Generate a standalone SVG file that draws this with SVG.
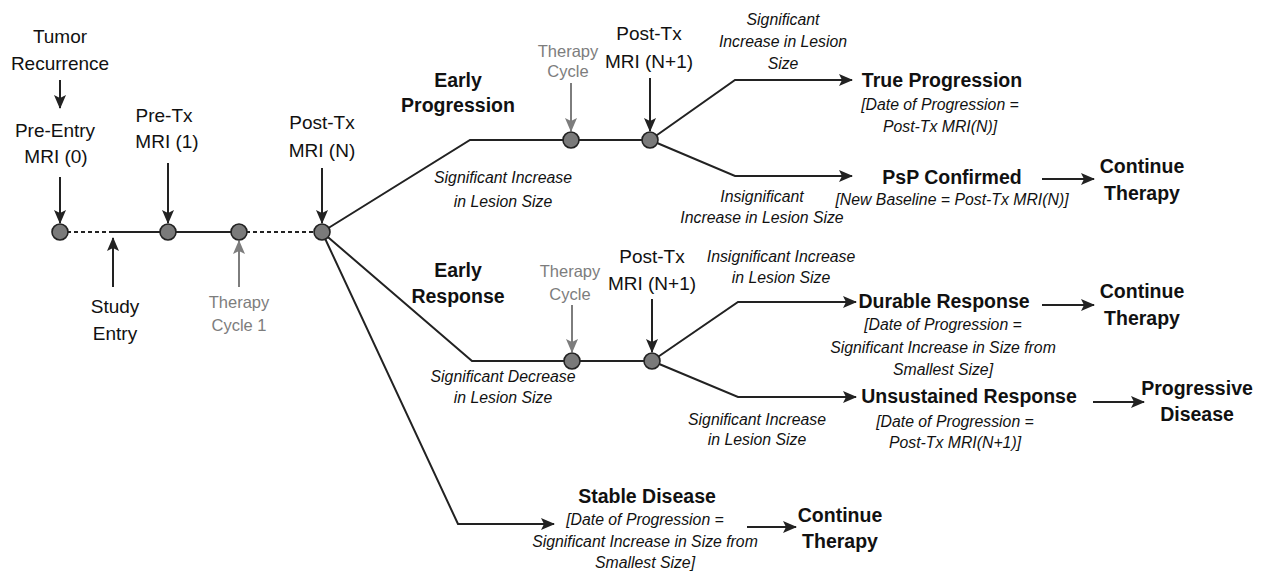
<svg xmlns="http://www.w3.org/2000/svg" width="1267" height="574" viewBox="0 0 1267 574">
<defs>
<style>
text{font-family:"Liberation Sans",Arial,sans-serif;fill:#111;text-anchor:middle}
.r{font-size:19px}
.b{font-size:19.5px;font-weight:bold}
.i{font-size:15.8px;font-style:italic}
.g{font-size:16.5px;fill:#7d7d7d}
.ln{fill:none;stroke:#222;stroke-width:2}
.gl{fill:none;stroke:#7d7d7d;stroke-width:2}
.ds{fill:none;stroke:#222;stroke-width:2;stroke-dasharray:4 3}
.nd{fill:#7a7a7a;stroke:#222;stroke-width:1.6}
</style>
<marker id="ah" markerUnits="userSpaceOnUse" markerWidth="14" markerHeight="12" refX="13" refY="6" orient="auto">
<path d="M0,0 L14,6 L0,12 L3,6 z" fill="#222"/>
</marker>
<marker id="ahg" markerUnits="userSpaceOnUse" markerWidth="14" markerHeight="12" refX="13" refY="6" orient="auto">
<path d="M0,0 L14,6 L0,12 L3,6 z" fill="#7d7d7d"/>
</marker>
</defs>
<rect width="1267" height="574" fill="#fff"/>

<g id="connectors">
<line class="ds" x1="60" y1="232" x2="113" y2="232"/>
<line class="ln" x1="113" y1="232" x2="239" y2="232"/>
<line class="ds" x1="239" y1="232" x2="322" y2="232"/>
<line class="ln" x1="60" y1="80" x2="60" y2="108" marker-end="url(#ah)"/>
<line class="ln" x1="60" y1="177" x2="60" y2="223" marker-end="url(#ah)"/>
<line class="ln" x1="168" y1="163" x2="168" y2="223" marker-end="url(#ah)"/>
<line class="ln" x1="322" y1="168" x2="322" y2="223" marker-end="url(#ah)"/>
<line class="ln" x1="113" y1="287" x2="113" y2="238" marker-end="url(#ah)"/>
<line class="gl" x1="239" y1="287" x2="239" y2="241" marker-end="url(#ahg)"/>

<polyline class="ln" points="322,232 470,140 650,140"/>
<line class="gl" x1="571" y1="83" x2="571" y2="131" marker-end="url(#ahg)"/>
<line class="ln" x1="650" y1="78" x2="650" y2="131" marker-end="url(#ah)"/>
<polyline class="ln" points="650,140 735,80 852,80" marker-end="url(#ah)"/>
<polyline class="ln" points="650,140 735,176 852,176" marker-end="url(#ah)"/>
<line class="ln" x1="1042" y1="179" x2="1094" y2="179" marker-end="url(#ah)"/>

<polyline class="ln" points="322,232 472,361 652,361"/>
<line class="gl" x1="572" y1="305" x2="572" y2="352" marker-end="url(#ahg)"/>
<line class="ln" x1="652" y1="299" x2="652" y2="352" marker-end="url(#ah)"/>
<polyline class="ln" points="652,361 738,302 856,302" marker-end="url(#ah)"/>
<polyline class="ln" points="652,361 738,397 856,397" marker-end="url(#ah)"/>
<line class="ln" x1="1042" y1="305" x2="1094" y2="305" marker-end="url(#ah)"/>
<line class="ln" x1="1093" y1="402" x2="1144" y2="402" marker-end="url(#ah)"/>

<polyline class="ln" points="322,232 458,524 554,524" marker-end="url(#ah)"/>
<line class="ln" x1="747" y1="527" x2="796" y2="527" marker-end="url(#ah)"/>
</g>

<g id="n-tumor"><text class="r" x="60" y="43">Tumor</text><text class="r" x="60" y="70">Recurrence</text></g>
<g id="n-preentry"><circle class="nd" cx="60" cy="232" r="8"/><text class="r" x="55" y="137">Pre-Entry</text><text class="r" x="56" y="163">MRI (0)</text></g>
<g id="n-studyentry"><text class="r" x="115" y="313">Study</text><text class="r" x="115" y="340">Entry</text></g>
<g id="n-pretx"><circle class="nd" cx="168" cy="232" r="8"/><text class="r" x="164" y="122">Pre-Tx</text><text class="r" x="167" y="148">MRI (1)</text></g>
<g id="n-cycle1"><circle class="nd" cx="239" cy="232" r="8"/><text class="g" x="239" y="308">Therapy</text><text class="g" x="239" y="331">Cycle 1</text></g>
<g id="n-posttx"><circle class="nd" cx="322" cy="232" r="8"/><text class="r" x="322" y="129">Post-Tx</text><text class="r" x="322" y="157">MRI (N)</text></g>

<g id="n-earlyprog">
<text class="b" x="458" y="87">Early</text><text class="b" x="458" y="112">Progression</text>
<text class="i" x="503" y="183">Significant Increase</text><text class="i" x="503" y="207">in Lesion Size</text>
<circle class="nd" cx="571" cy="140" r="8"/><text class="g" x="568" y="57">Therapy</text><text class="g" x="568" y="77">Cycle</text>
<circle class="nd" cx="650" cy="140" r="8"/><text class="r" x="649" y="40">Post-Tx</text><text class="r" x="649" y="68">MRI (N+1)</text>
<text class="i" x="783" y="25">Significant</text><text class="i" x="783" y="47">Increase in Lesion</text><text class="i" x="783" y="69">Size</text>
<text class="i" x="762" y="202">Insignificant</text><text class="i" x="762" y="223">Increase in Lesion Size</text>
</g>
<g id="n-trueprog"><text class="b" x="942" y="87">True Progression</text><text class="i" x="940" y="110">[Date of Progression =</text><text class="i" x="940" y="132">Post-Tx MRI(N)]</text></g>
<g id="n-psp"><text class="b" x="952" y="184">PsP Confirmed</text><text class="i" x="952" y="205">[New Baseline = Post-Tx MRI(N)]</text></g>
<g id="n-cont1"><text class="b" x="1142" y="173">Continue</text><text class="b" x="1142" y="200">Therapy</text></g>

<g id="n-earlyresp">
<text class="b" x="458" y="277">Early</text><text class="b" x="458" y="303">Response</text>
<text class="i" x="503" y="382">Significant Decrease</text><text class="i" x="503" y="403">in Lesion Size</text>
<circle class="nd" cx="572" cy="361" r="8"/><text class="g" x="570" y="277">Therapy</text><text class="g" x="570" y="300">Cycle</text>
<circle class="nd" cx="652" cy="361" r="8"/><text class="r" x="652" y="263">Post-Tx</text><text class="r" x="652" y="290">MRI (N+1)</text>
<text class="i" x="781" y="262">Insignificant Increase</text><text class="i" x="781" y="283">in Lesion Size</text>
<text class="i" x="757" y="425">Significant Increase</text><text class="i" x="757" y="445">in Lesion Size</text>
</g>
<g id="n-durable"><text class="b" x="944" y="308">Durable Response</text><text class="i" x="943" y="330">[Date of Progression =</text><text class="i" x="943" y="353">Significant Increase in Size from</text><text class="i" x="943" y="375">Smallest Size]</text></g>
<g id="n-cont2"><text class="b" x="1142" y="298">Continue</text><text class="b" x="1142" y="325">Therapy</text></g>
<g id="n-unsust"><text class="b" x="969" y="403">Unsustained Response</text><text class="i" x="955" y="427">[Date of Progression =</text><text class="i" x="955" y="448">Post-Tx MRI(N+1)]</text></g>
<g id="n-progdis"><text class="b" x="1197" y="395">Progressive</text><text class="b" x="1197" y="421">Disease</text></g>

<g id="n-stable"><text class="b" x="647" y="503">Stable Disease</text><text class="i" x="645" y="525">[Date of Progression =</text><text class="i" x="645" y="547">Significant Increase in Size from</text><text class="i" x="645" y="568">Smallest Size]</text></g>
<g id="n-cont3"><text class="b" x="840" y="522">Continue</text><text class="b" x="840" y="548">Therapy</text></g>
</svg>
